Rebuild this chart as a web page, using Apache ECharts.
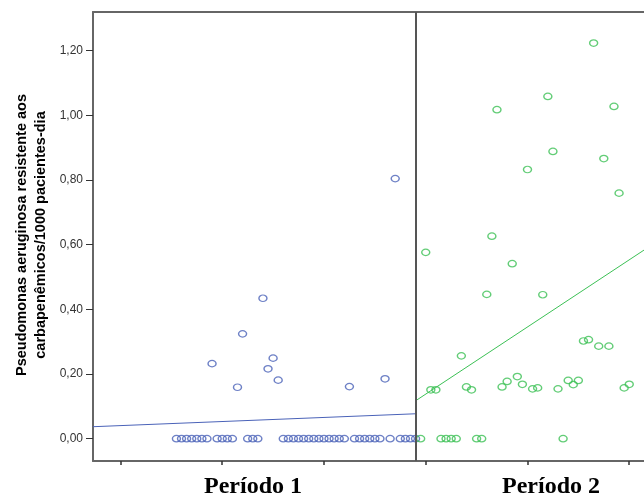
<!DOCTYPE html>
<html>
<head>
    <meta charset="utf-8">
    <title>Pseudomonas aeruginosa</title>
    <script src="https://cdn.jsdelivr.net/npm/echarts@6/dist/echarts.min.js"></script>
    <style>
        html, body { margin: 0; padding: 0; background: #fff; }
        #chart { width: 644px; height: 499px; }
    </style>
</head>
<body>
<div id="chart"></div>
<script>
    // meses e taxas
    var mesesP1 = [31,32,33,34,35,36,37,38,39,40,41,42,43,44,45,46,47,48,49,50,51,52,53,54,55,56,57,58,59,60,
        61,62,63,64,65,66,67,68,69,70,71,72,73,74,75,76,77,78];
    var taxasP1 = [0,0,0,0,0,0,0,0.232,0,0,0,0,0.159,0.324,0,0,0,0.434,0.216,0.249,0.181,0,0,0,0,0,0,0,0,0,
        0,0,0,0,0.161,0,0,0,0,0,0,0.185,0,0.804,0,0,0,0];

    var mesesP2 = [79,80,81,82,83,84,85,86,87,88,89,90,91,92,93,94,95,96,97,98,99,100,101,102,103,104,105,106,107,108,
        109,110,111,112,113,114,115,116,117,118,119,120];
    var taxasP2 = [0,0.576,0.151,0.151,0,0,0,0,0.256,0.160,0.151,0,0,0.446,0.626,1.017,0.160,0.177,0.541,0.192,
        0.168,0.832,0.154,0.157,0.445,1.058,0.888,0.154,0,0.180,0.167,0.180,0.302,0.306,1.223,0.286,0.866,0.286,
        1.027,0.759,0.157,0.168];

    // retas de ajuste (início, fim)
    var ajusteP1 = [[14.6, 0.037], [78, 0.077]];
    var ajusteP2 = [[78, 0.117], [122.9, 0.583]];

    var divisao = 78;
    var xTicks = [20, 40, 60, 80, 100, 120];
    var yTicks = [0, 0.2, 0.4, 0.6, 0.8, 1.0, 1.2];
    var periodos = ['Período 1', 'Período 2'];

    var corAzul = '#4a62b8';
    var corVerde = '#3cc055';
    var corEixo = '#666';

    function pares(xs, ys) {
        var r = [];
        for (var i = 0; i < xs.length; i++) r.push([xs[i], ys[i]]);
        return r;
    }

    var myChart = echarts.init(document.getElementById('chart'));

    myChart.setOption({
        animation: false,
        grid: { left: 93, right: 0, top: 12, bottom: 38 },
        xAxis: [{
            type: 'value',
            min: 14.6,
            max: 122.9,
            splitLine: { show: false },
            axisLine: { show: true, onZero: false, lineStyle: { color: corEixo, width: 2 } },
            axisTick: { show: true, length: 4, customValues: xTicks, lineStyle: { color: '#333', width: 1.5 } },
            axisLabel: { show: false }
        }, {
            type: 'value',
            position: 'top',
            min: 14.6,
            max: 122.9,
            splitLine: { show: false },
            axisLine: { show: true, onZero: false, lineStyle: { color: corEixo, width: 2 } },
            axisTick: { show: false },
            axisLabel: { show: false }
        }],
        yAxis: {
            type: 'value',
            min: -0.069,
            max: 1.319,
            splitLine: { show: false },
            axisLine: { show: true, onZero: false, lineStyle: { color: corEixo, width: 2 } },
            axisTick: { show: true, length: 7, customValues: yTicks, lineStyle: { color: '#333' } },
            axisLabel: {
                customValues: yTicks,
                margin: 10,
                color: '#333',
                fontSize: 12,
                fontFamily: 'Liberation Sans',
                formatter: function (v) { return v.toFixed(2).replace('.', ','); }
            }
        },
        graphic: [{
            type: 'text',
            x: 31, y: 235,
            rotation: Math.PI / 2,
            style: {
                text: 'Pseudomonas aeruginosa resistente aos\ncarbapenêmicos/1000 pacientes-dia',
                font: 'bold 14.5px "Liberation Sans"',
                lineHeight: 19,
                fill: '#000',
                textAlign: 'center',
                textVerticalAlign: 'middle'
            }
        }, {
            type: 'text',
            x: 253, y: 487,
            style: {
                text: periodos[0],
                font: 'bold 24px "Liberation Serif"',
                fill: '#000',
                textAlign: 'center',
                textVerticalAlign: 'middle'
            }
        }, {
            type: 'text',
            x: 551, y: 487,
            style: {
                text: periodos[1],
                font: 'bold 24px "Liberation Serif"',
                fill: '#000',
                textAlign: 'center',
                textVerticalAlign: 'middle'
            }
        }],
        series: [{
            type: 'line',
            data: ajusteP1,
            showSymbol: false,
            lineStyle: { color: corAzul, width: 1 },
            z: 2
        }, {
            type: 'line',
            data: ajusteP2,
            showSymbol: false,
            lineStyle: { color: corVerde, width: 1 },
            z: 2,
            markLine: {
                silent: true,
                symbol: 'none',
                label: { show: false },
                lineStyle: { color: '#555', width: 2, type: 'solid' },
                data: [{ xAxis: divisao }]
            }
        }, {
            type: 'scatter',
            data: pares(mesesP1, taxasP1),
            symbol: 'circle',
            symbolSize: [8, 6.5],
            itemStyle: { color: 'transparent', borderColor: corAzul, borderWidth: 1.3 },
            z: 3
        }, {
            type: 'scatter',
            data: pares(mesesP2, taxasP2),
            symbol: 'circle',
            symbolSize: [8, 6.5],
            itemStyle: { color: 'transparent', borderColor: corVerde, borderWidth: 1.3 },
            z: 3
        }]
    });
</script>
</body>
</html>
